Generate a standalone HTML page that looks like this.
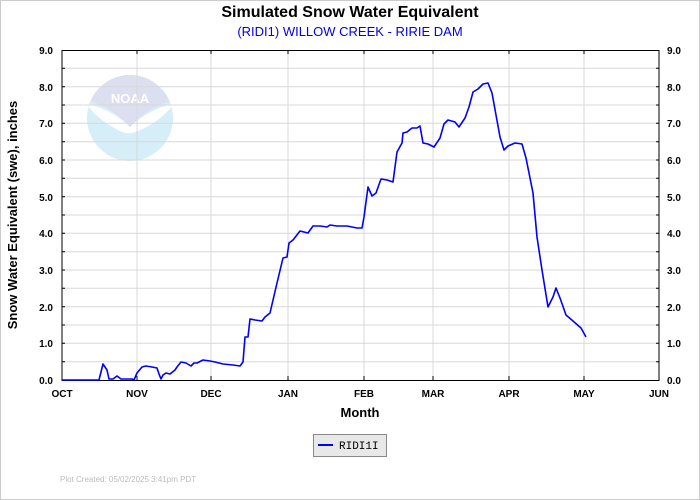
<!DOCTYPE html>
<html><head><style>
body{margin:0;background:#fff;}
svg{display:block;font-family:"Liberation Sans",Arial,sans-serif;}
</style></head><body>
<svg width="700" height="500" viewBox="0 0 700 500">
<rect width="700" height="500" fill="#fff"/>
<rect x="0.5" y="0.5" width="699" height="499" fill="none" stroke="#ccc"/>
<text x="350" y="17" text-anchor="middle" font-size="16" font-weight="bold" fill="#000">Simulated Snow Water Equivalent</text>
<text x="350" y="36" text-anchor="middle" font-size="13" fill="#0000ee">(RIDI1) WILLOW CREEK - RIRIE DAM</text>
<defs><clipPath id="c"><circle cx="130" cy="118" r="43"/></clipPath></defs>
<g clip-path="url(#c)">
<rect x="85" y="70" width="90" height="95" fill="#d6eef8"/>
<path d="M85,70 H175 V100 Q150,105 130,127 Q110,105 85,100Z" fill="#dcdff0"/>
<path d="M86,104 Q110,108 130,127 Q150,108 174,104 Q160,122 138,131 Q130,135 122,132 Q100,122 86,104Z" fill="#fff"/>
</g>
<text x="130" y="103" text-anchor="middle" font-size="13" font-weight="bold" fill="#fff">NOAA</text>
<g stroke="#d8d8d8" stroke-width="1">
<line x1="62" y1="68.3" x2="659" y2="68.3"/><line x1="62" y1="86.7" x2="659" y2="86.7"/><line x1="62" y1="105" x2="659" y2="105"/><line x1="62" y1="123.3" x2="659" y2="123.3"/><line x1="62" y1="141.7" x2="659" y2="141.7"/><line x1="62" y1="160" x2="659" y2="160"/><line x1="62" y1="178.3" x2="659" y2="178.3"/><line x1="62" y1="196.7" x2="659" y2="196.7"/><line x1="62" y1="215" x2="659" y2="215"/><line x1="62" y1="233.3" x2="659" y2="233.3"/><line x1="62" y1="251.7" x2="659" y2="251.7"/><line x1="62" y1="270" x2="659" y2="270"/><line x1="62" y1="288.3" x2="659" y2="288.3"/><line x1="62" y1="306.7" x2="659" y2="306.7"/><line x1="62" y1="325" x2="659" y2="325"/><line x1="62" y1="343.3" x2="659" y2="343.3"/><line x1="62" y1="361.7" x2="659" y2="361.7"/>
<line x1="137" y1="50" x2="137" y2="380"/><line x1="211" y1="50" x2="211" y2="380"/><line x1="288" y1="50" x2="288" y2="380"/><line x1="364" y1="50" x2="364" y2="380"/><line x1="433" y1="50" x2="433" y2="380"/><line x1="509" y1="50" x2="509" y2="380"/><line x1="584" y1="50" x2="584" y2="380"/>
</g>
<rect x="62" y="50.5" width="597" height="330" fill="none" stroke="#000"/>
<g stroke="#000">
<path d="M62,68.3h3M62,86.7h3M62,105h3M62,123.3h3M62,141.7h3M62,160h3M62,178.3h3M62,196.7h3M62,215h3M62,233.3h3M62,251.7h3M62,270h3M62,288.3h3M62,306.7h3M62,325h3M62,343.3h3M62,361.7h3"/>
<path d="M659,68.3h-3M659,86.7h-3M659,105h-3M659,123.3h-3M659,141.7h-3M659,160h-3M659,178.3h-3M659,196.7h-3M659,215h-3M659,233.3h-3M659,251.7h-3M659,270h-3M659,288.3h-3M659,306.7h-3M659,325h-3M659,343.3h-3M659,361.7h-3"/>
<path d="M137,50v4M211,50v4M288,50v4M364,50v4M433,50v4M509,50v4M584,50v4M137,380v-4M211,380v-4M288,380v-4M364,380v-4M433,380v-4M509,380v-4M584,380v-4"/>
</g>
<g font-size="10" fill="#000" font-weight="bold">
<g text-anchor="end">
<text x="53" y="54">9.0</text><text x="53" y="91">8.0</text><text x="53" y="127">7.0</text><text x="53" y="164">6.0</text><text x="53" y="201">5.0</text><text x="53" y="237">4.0</text><text x="53" y="274">3.0</text><text x="53" y="311">2.0</text><text x="53" y="347">1.0</text><text x="53" y="384">0.0</text>
</g>
<g text-anchor="start">
<text x="667" y="54">9.0</text><text x="667" y="91">8.0</text><text x="667" y="127">7.0</text><text x="667" y="164">6.0</text><text x="667" y="201">5.0</text><text x="667" y="237">4.0</text><text x="667" y="274">3.0</text><text x="667" y="311">2.0</text><text x="667" y="347">1.0</text><text x="667" y="384">0.0</text>
</g>
<g text-anchor="middle">
<text x="62" y="397">OCT</text><text x="137" y="397">NOV</text><text x="211" y="397">DEC</text><text x="288" y="397">JAN</text><text x="364" y="397">FEB</text><text x="433" y="397">MAR</text><text x="509" y="397">APR</text><text x="584" y="397">MAY</text><text x="659" y="397">JUN</text>
</g>
</g>
<text x="360" y="417" text-anchor="middle" font-size="13" font-weight="bold">Month</text>
<text transform="translate(17,215) rotate(-90)" text-anchor="middle" font-size="13" font-weight="bold">Snow Water Equivalent (swe),  inches</text>
<polyline fill="none" stroke="#0000ff" stroke-width="1.6" stroke-linejoin="round" points="62,380 99,380 103,364 107,370 109,379 113,379 117,376 121,379 127,379 132,379 134,380 137,373 142,367 146,366 152,367 157,368 159,374 161,379 163,375 166,373 170,374 175,370 177,367 181,362 186,363 191,366 194,363 197,363 203,360 210,361 215,362 223,364 233,365 240,366 243,362 245,337 248,337 250,319 255,320 262,321 265,317 270,313 277,283 283,258 287,257 289,243 293,240 300,231 308,233 313,226 320,226 327,227 330,225 337,226 347,226 357,228 362,228 364,217 368,187 372,196 376,193 381,179 387,180 393,182 397,152 402,143 403,133 407,132 412,128 417,128 420,126 423,143 428,144 434,147 440,138 444,124 448,120 455,122 459,127 465,118 469,107 473,92 478,89 483,84 488,83 492,93 500,137 504,150 508,146 515,143 522,144 526,158 533,193 537,237 542,270 548,307 553,297 556,288 560,298 566,315 573,321 581,328 586,337"/>
<rect x="313.5" y="434.5" width="73" height="22" fill="#e8e8e8" stroke="#888"/>
<line x1="318" y1="445" x2="333" y2="445" stroke="#0000ff" stroke-width="2"/>
<text x="339" y="449" font-size="11" font-family="Liberation Mono,monospace">RIDI1I</text>
<text x="60" y="482" font-size="8" fill="#bbb">Plot Created: 05/02/2025 3:41pm PDT</text>
</svg>
</body></html>
